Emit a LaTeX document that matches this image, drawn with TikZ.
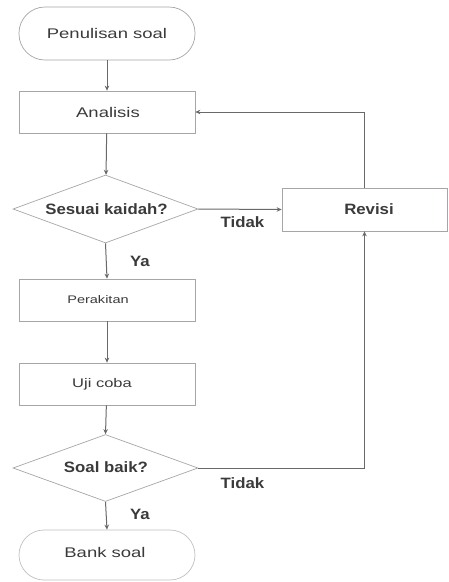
\documentclass[tikz,border=0pt]{standalone}
\usepackage{fontspec}
\usepackage{graphicx}
\setmainfont{Liberation Sans}
\usetikzlibrary{shapes.geometric,arrows.meta}
\definecolor{txt}{HTML}{3A3A3A}
\definecolor{boxc}{HTML}{A8A4A8}
\definecolor{linec}{HTML}{6A686A}
\newcommand{\rtxt}[2]{{\fontsize{#1}{#1}\selectfont\scalebox{1.32}[1]{#2}}}
\newcommand{\btxt}[1]{{\fontsize{15}{15}\selectfont\bfseries\scalebox{1.12}[1]{#1}}}
\begin{document}
\begin{tikzpicture}[x=1pt,y=-1pt,
  box/.style={draw=boxc, line width=0.7pt, minimum width=176pt, minimum height=42pt, inner sep=0pt, text=txt},
  term/.style={box, rounded corners=26pt, minimum height=53pt},
  dec/.style={diamond, draw=boxc, line width=0.7pt, minimum width=185pt, minimum height=68pt, inner sep=0pt},
  conn/.style={draw=linec, line width=1pt, -{Stealth[length=5pt,width=4.5pt]}},
  lbl/.style={text=txt, inner sep=0pt}]
\useasboundingbox (0,0) rectangle (448,582);
% nodes
\node[term] (start) at (107,33.5) {};
\node[lbl] (tstart) at (107,33.5) {\rtxt{14}{Penulisan soal}};
\node[box] (ana) at (107,112) {};
\node[lbl] (tana) at (108,112) {\rtxt{14}{Analisis}};
\node[dec] (d1) at (105.5,209) {};
\node[lbl] (td1) at (106.5,209) {\btxt{Sesuai kaidah?}};
\node[box, minimum width=165pt, minimum height=43pt] (rev) at (364.5,209.5) {};
\node[lbl] (trev) at (369,209.5) {\btxt{Revisi}};
\node[box] (per) at (107,300) {};
\node[lbl] (tper) at (98,300) {\rtxt{11}{Perakitan}};
\node[box] (uji) at (107,384) {};
\node[lbl] (tuji) at (102,384) {\rtxt{12.5}{Uji coba}};
\node[dec, minimum height=67pt] (d2) at (105.5,468) {};
\node[lbl] (td2) at (106,467) {\btxt{Soal baik?}};
\node[term, minimum height=50pt, rounded corners=25pt, draw=boxc!70] (bank) at (107,555) {};
\node[lbl] (tbank) at (105,552) {\rtxt{14}{Bank soal}};
% connectors
\draw[conn] (start) -- (ana);
\draw[conn] (ana) -- (d1);
\draw[conn] (d1.east) -- (rev.west);
\node[lbl] (tidak1) at (242.5,222) {\btxt{Tidak}};
\draw[conn] (rev.north) |- (ana.east);
\draw[conn] (d1.south) -- (per.north);
\node[lbl] (ya1) at (140,261) {\btxt{Ya}};
\draw[conn] (per) -- (uji);
\draw[conn] (uji) -- (d2.north);
\draw[conn] (d2.east) -| (rev.south);
\node[lbl] (tidak2) at (242.5,483) {\btxt{Tidak}};
\draw[conn] (d2.south) -- (bank.north);
\node[lbl] (ya2) at (140,514) {\btxt{Ya}};
\end{tikzpicture}
\end{document}
